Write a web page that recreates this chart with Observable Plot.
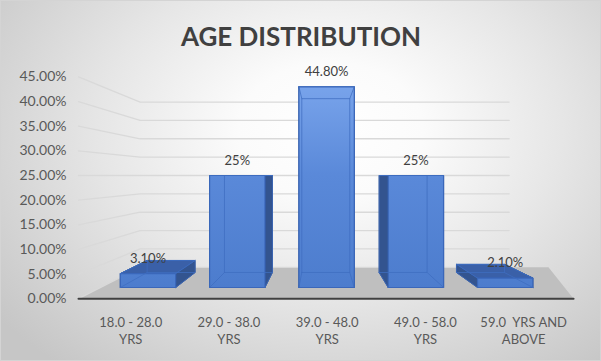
<!DOCTYPE html>
<html>
<head>
<meta charset="utf-8">
<script src="https://cdn.jsdelivr.net/npm/d3@7"></script>
<script src="https://cdn.jsdelivr.net/npm/@observablehq/plot@0.6"></script>
<style>
html, body { margin: 0; padding: 0; }
body { width: 601px; height: 361px; overflow: hidden; }
#wrap {
  position: relative; width: 601px; height: 361px;
  background: radial-gradient(ellipse 70% 85% at 55% 36%, #ffffff 0%, #fbfbfb 22%, #e6e6e6 55%, #c6c6c6 100%);
  box-shadow: inset 0 0 0 1px #d4d4d4;
}
#wrap svg { position: absolute; left: 0; top: 0; overflow: visible; }
</style>
</head>
<body>
<div id="wrap"></div>
<script>
// ---- data ----
const title = "AGE DISTRIBUTION";
const categories = ["18.0 - 28.0\nYRS", "29.0 - 38.0\nYRS", "39.0 - 48.0\nYRS", "49.0 - 58.0\nYRS", "59.0  YRS AND\nABOVE"];
const values = [3.1, 25, 44.8, 25, 2.1];
const valueLabels = ["3.10%", "25%", "44.80%", "25%", "2.10%"];
const tickValues = [0, 5, 10, 15, 20, 25, 30, 35, 40, 45];
const tickLabels = ["0.00%", "5.00%", "10.00%", "15.00%", "20.00%", "25.00%", "30.00%", "35.00%", "40.00%", "45.00%"];

// ---- 3D view (perspective in data space: category units × percent) ----
const VPX = 1.932, VH = 25;            // vanishing point (category units, percent)
const KL = 1.1, KF = 1, KB = 0.866, KW = 0.82; // depth factors: labels, bar front, bar back, back wall
const HALF = 0.31;                     // half bar width (category units)
const XL = -0.532, XR = 4.508, XS = 5.045; // floor / wall extents
const P = (u, v, k) => ({x: VPX + (u - VPX) * k, y: VH + (v - VH) * k});
const poly = (id, pts) => [...pts, pts[0]].map(p => ({id, ...p}));

const grid = tickValues.flatMap(t => [P(XL, t, KL), P(XL, t, KW), P(XR, t, KW)].map(p => ({id: t, ...p})));
const floor = poly("floor", [P(XL, 0, KL), P(XR, 0, KL), P(XS, 0, KW), P(XL, 0, KW)]);
const axisLine = [P(XL, 0, KL), P(XR, 0, KL)];
const ticks = tickValues.map((t, i) => ({label: tickLabels[i], ...P(XL, t, KL)}));
const cats = categories.map((c, i) => ({label: c, ...P(i, 0, KL)}));

const sides = [], tops = [], fronts = [], edges = [], vlabels = [];
values.forEach((v, i) => {
  const x0 = i - HALF, x1 = i + HALF;
  const F = [P(x0, 0, KF), P(x1, 0, KF), P(x1, v, KF), P(x0, v, KF)];
  const B = [P(x0, 0, KB), P(x1, 0, KB), P(x1, v, KB), P(x0, v, KB)];
  sides.push(...poly("L" + i, [F[0], F[3], B[3], B[0]]), ...poly("R" + i, [F[1], F[2], B[2], B[1]]));
  tops.push(...poly("T" + i, [F[3], F[2], B[2], B[3]]));
  fronts.push(...poly("F" + i, F));
  edges.push(...poly("B" + i, B));
  for (let j = 0; j < 4; j++) edges.push({id: "E" + i + j, ...F[j]}, {id: "E" + i + j, ...B[j]});
  vlabels.push({label: valueLabels[i], ...P(i, v, KF)});
});

const font = "Lato, 'Open Sans', sans-serif";
const chart = Plot.plot({
  width: 601, height: 361,
  margin: 0,
  style: {background: "transparent", fontFamily: font, overflow: "visible"},
  x: {type: "linear", domain: [-1.6517, 5.0784], axis: null},
  y: {type: "linear", domain: [-16.518, 64.063], axis: null},
  marks: [
    Plot.line(floor, {x: "x", y: "y", z: "id", fill: "#bfbfbf", stroke: "none"}),
    Plot.line(grid, {x: "x", y: "y", z: "id", stroke: "#d9d9d9", strokeWidth: 1.3}),
    Plot.line(axisLine, {x: "x", y: "y", stroke: "#404040", strokeWidth: 2}),
    Plot.text(ticks, {x: "x", y: "y", text: "label", textAnchor: "end", dx: -12, fontSize: 14, fill: "#595959"}),
    Plot.text(cats, {x: "x", y: "y", text: "label", lineAnchor: "top", dy: 16, lineHeight: 1.3, fontSize: 13, fill: "#595959"}),
    Plot.line(sides, {x: "x", y: "y", z: "id", fill: "#33548f", stroke: "#2b4a85", strokeWidth: 1}),
    Plot.line(tops, {x: "x", y: "y", z: "id", fill: "#3a60a8", stroke: "#3360b0", strokeWidth: 1}),
    Plot.line(fronts, {x: "x", y: "y", z: "id", fill: "url(#barFront)", stroke: "#3a67ba", strokeWidth: 1.2}),
    Plot.line(edges, {x: "x", y: "y", z: "id", stroke: "#3f6dc0", strokeOpacity: 0.75, strokeWidth: 1}),
    Plot.text(vlabels, {x: "x", y: "y", text: "label", dy: -15, fontSize: 13, fill: "#404040"}),
    Plot.text([title], {frameAnchor: "top", dy: 45, lineAnchor: "bottom", fontSize: 26, fontWeight: "bold", fill: "#404040"})
  ]
});
// gradient used by the bar front faces
const ns = "http://www.w3.org/2000/svg";
const defs = document.createElementNS(ns, "defs");
const grad = document.createElementNS(ns, "linearGradient");
grad.setAttribute("id", "barFront");
grad.setAttribute("gradientUnits", "userSpaceOnUse");
grad.setAttribute("x1", "0"); grad.setAttribute("y1", "80");
grad.setAttribute("x2", "0"); grad.setAttribute("y2", "290");
[["0", "#7aa5ec"], ["0.45", "#5a89d9"], ["1", "#4c7ccd"]].forEach(([o, c]) => {
  const s = document.createElementNS(ns, "stop");
  s.setAttribute("offset", o); s.setAttribute("stop-color", c);
  grad.appendChild(s);
});
defs.appendChild(grad);
chart.insertBefore(defs, chart.firstChild);
document.getElementById("wrap").appendChild(chart);
</script>
</body>
</html>
